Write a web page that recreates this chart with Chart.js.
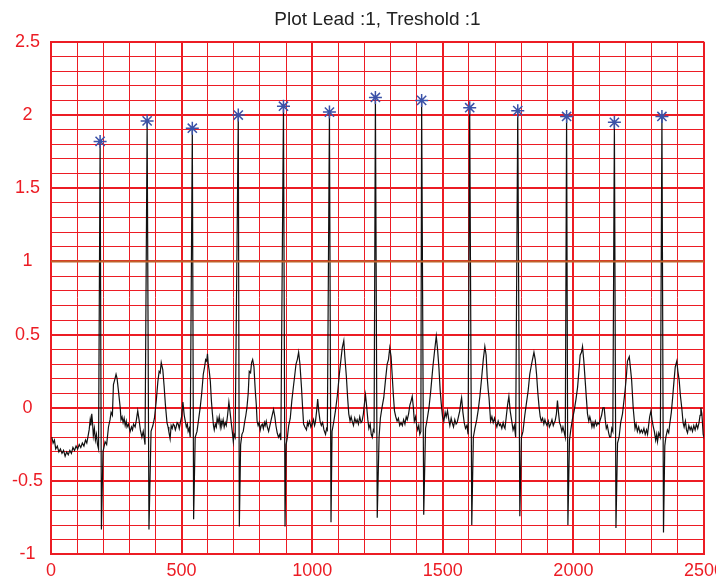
<!DOCTYPE html>
<html>
<head>
<meta charset="utf-8">
<script src="https://cdn.jsdelivr.net/npm/chart.js@4.4.1/dist/chart.umd.min.js"></script>
<style>
  html, body { margin: 0; padding: 0; background: #fff; overflow: hidden; }
  canvas { display: block; }
</style>
</head>
<body>
<canvas id="ecgChart" width="730" height="581"></canvas>
<script>
// ECG samples (time index, amplitude), one line per beat
const ecgTime = [
  3, 8, 13, 18, 24, 30, 36, 42, 48, 54, 60, 66, 72, 78, 84, 90, 96, 102, 108, 114, 120, 126, 132, 137, 142, 146, 150, 153, 156, 159, 162, 166, 170, 174, 178, 182,
  188, 193, 199, 207, 213, 220, 226, 230, 235, 239, 245, 249, 253, 258, 265, 268, 272, 276, 280, 284, 288, 291, 296, 303, 308, 312, 316, 322, 327, 332, 337, 342, 348, 353, 357, 360,
  368, 375, 383, 390, 396, 403, 409, 414, 418, 422, 428, 433, 438, 444, 448, 451, 456, 460, 464, 468, 472, 476, 479, 483, 487, 491, 495, 500, 505, 510, 514, 518, 522, 525, 529, 533,
  541, 546, 552, 559, 565, 571, 577, 583, 588, 592, 596, 599, 602, 606, 610, 614, 618, 622, 625, 629, 633, 636, 640, 644, 648, 651, 654, 659, 663, 667, 671, 676, 681, 685, 690, 694, 698, 701, 705,
  717, 721, 726, 731, 736, 741, 746, 750, 755, 759, 764, 768, 772, 777, 782, 786, 789, 793, 797, 801, 805, 809, 813, 817, 820, 824, 828, 833, 838, 843, 848, 852, 857, 861, 866, 871, 876, 880,
  890, 896, 900, 905, 910, 916, 922, 929, 933, 938, 943, 948, 953, 959, 963, 967, 972, 978, 982, 985, 990, 995, 1000, 1005, 1009, 1012, 1017, 1021, 1025, 1030, 1035, 1040, 1045, 1051, 1055, 1058,
  1066, 1072, 1076, 1082, 1089, 1096, 1104, 1110, 1115, 1121, 1125, 1131, 1136, 1140, 1145, 1149, 1153, 1158, 1163, 1168, 1172, 1177, 1182, 1187, 1191, 1196, 1200, 1204, 1208, 1213, 1217, 1222, 1226, 1230, 1234, 1237,
  1242, 1249, 1256, 1261, 1267, 1274, 1280, 1287, 1292, 1297, 1302, 1306, 1311, 1315, 1320, 1325, 1330, 1335, 1340, 1345, 1350, 1355, 1360, 1364, 1369, 1374, 1379, 1383, 1387, 1391, 1396, 1400, 1404, 1408, 1412, 1416,
  1419, 1427, 1434, 1440, 1447, 1454, 1462, 1468, 1475, 1480, 1485, 1490, 1494, 1499, 1504, 1509, 1513, 1518, 1523, 1527, 1532, 1536, 1541, 1546, 1551, 1555, 1560, 1565, 1569, 1572, 1577, 1582, 1587, 1592, 1597,
  1603, 1611, 1617, 1623, 1630, 1636, 1642, 1649, 1655, 1661, 1666, 1670, 1674, 1677, 1683, 1688, 1693, 1698, 1702, 1707, 1712, 1717, 1721, 1726, 1731, 1735, 1738, 1743, 1748, 1753, 1758, 1764, 1769, 1774, 1779,
  1787, 1795, 1801, 1807, 1814, 1820, 1827, 1833, 1840, 1849, 1854, 1859, 1864, 1869, 1873, 1877, 1882, 1887, 1891, 1894, 1899, 1904, 1908, 1913, 1918, 1923, 1927, 1930, 1935, 1939, 1943, 1947, 1951, 1956, 1960, 1964, 1969,
  1974, 1979, 1985, 1990, 1996, 2003, 2010, 2016, 2021, 2026, 2031, 2035, 2040, 2045, 2050, 2054, 2059, 2063, 2067, 2071, 2075, 2079, 2084, 2089, 2094, 2098, 2103, 2108, 2113, 2118, 2122, 2126, 2130, 2135, 2139, 2143, 2147, 2151,
  2157, 2163, 2169, 2175, 2181, 2188, 2193, 2198, 2203, 2207, 2214, 2218, 2223, 2229, 2236, 2240, 2245, 2250, 2255, 2260, 2265, 2270, 2275, 2280, 2284, 2288, 2292, 2297, 2301, 2305, 2310, 2315, 2319, 2322, 2327, 2333,
  2339, 2345, 2350, 2354, 2360, 2365, 2369, 2375, 2380, 2385, 2390, 2396, 2400, 2405, 2410, 2415, 2420, 2424, 2429, 2433, 2437, 2442, 2447, 2451, 2456, 2461, 2466, 2471, 2476, 2481, 2485, 2488, 2492, 2497, 2500
];
const ecgValue = [
  -0.20, -0.24, -0.22, -0.28, -0.26, -0.30, -0.28, -0.31, -0.29, -0.33, -0.30, -0.32, -0.29, -0.31, -0.27, -0.29, -0.26, -0.28, -0.25, -0.27, -0.24, -0.26, -0.22, -0.24, -0.19, -0.15, -0.08, -0.12, -0.04, -0.10, -0.19, -0.14, -0.22, -0.18, -0.25, -0.28,
  1.82, -0.83, -0.30, -0.23, -0.25, -0.13, -0.08, -0.03, -0.05, 0.16, 0.20, 0.23, 0.20, 0.12, 0.0, -0.08, -0.06, -0.10, -0.07, -0.12, -0.09, -0.13, -0.11, -0.16, -0.13, -0.15, -0.11, -0.13, -0.08, -0.02, -0.08, -0.15, -0.20, -0.16, -0.21, -0.25,
  1.96, -0.83, -0.16, -0.12, -0.07, 0.05, 0.18, 0.25, 0.24, 0.31, 0.26, 0.15, 0.02, -0.10, -0.13, -0.16, -0.21, -0.12, -0.14, -0.11, -0.12, -0.15, -0.13, -0.10, -0.11, -0.14, -0.10, -0.06, 0.04, -0.05, -0.09, -0.13, -0.11, -0.16, -0.14, -0.20,
  1.91, -0.76, -0.20, -0.16, -0.08, 0.0, 0.10, 0.23, 0.28, 0.33, 0.32, 0.37, 0.30, 0.25, 0.18, 0.05, -0.04, -0.12, -0.15, -0.11, -0.13, -0.07, -0.10, -0.06, -0.13, -0.09, -0.12, -0.08, -0.13, -0.10, -0.12, -0.05, 0.04, -0.02, -0.10, -0.16, -0.23, -0.18, -0.20,
  2.00, -0.81, -0.25, -0.18, -0.16, -0.10, -0.05, 0.0, 0.10, 0.25, 0.24, 0.31, 0.33, 0.28, 0.12, 0.02, -0.09, -0.12, -0.10, -0.15, -0.12, -0.11, -0.14, -0.10, -0.12, -0.09, -0.13, -0.16, -0.12, -0.08, -0.04, -0.01, -0.06, -0.12, -0.17, -0.20, -0.18, -0.22,
  2.06, -0.81, -0.25, -0.20, -0.12, -0.07, 0.05, 0.16, 0.22, 0.30, 0.33, 0.38, 0.30, 0.14, 0.01, -0.11, -0.13, -0.15, -0.10, -0.12, -0.09, -0.13, -0.11, -0.08, -0.12, -0.10, -0.02, 0.06, -0.02, -0.09, -0.12, -0.10, -0.15, -0.18, -0.14, -0.15,
  2.02, -0.78, -0.16, -0.10, -0.02, 0.08, 0.23, 0.33, 0.41, 0.46, 0.35, 0.21, 0.06, -0.04, -0.09, -0.06, -0.09, -0.12, -0.07, -0.10, -0.08, -0.11, -0.06, -0.10, -0.09, -0.04, 0.03, 0.09, 0.02, -0.08, -0.14, -0.11, -0.18, -0.20, -0.15, -0.16,
  2.12, -0.75, -0.20, -0.07, 0.0, 0.07, 0.18, 0.30, 0.33, 0.41, 0.35, 0.23, 0.08, -0.02, -0.06, -0.09, -0.07, -0.12, -0.10, -0.12, -0.08, -0.11, -0.06, -0.08, -0.04, 0.02, 0.05, 0.08, 0.01, -0.09, -0.06, -0.12, -0.15, -0.12, -0.18, -0.16,
  2.10, -0.73, -0.14, -0.08, 0.0, 0.12, 0.28, 0.38, 0.49, 0.40, 0.28, 0.12, 0.03, -0.06, -0.09, -0.03, -0.06, -0.02, -0.08, -0.12, -0.07, -0.10, -0.13, -0.08, -0.11, -0.10, -0.06, -0.02, 0.04, 0.07, -0.03, -0.10, -0.14, -0.12, -0.18,
  2.05, -0.80, -0.20, -0.14, -0.08, -0.01, 0.08, 0.21, 0.33, 0.42, 0.36, 0.21, 0.12, 0.07, -0.09, -0.06, -0.10, -0.07, -0.10, -0.13, -0.09, -0.12, -0.11, -0.14, -0.10, -0.13, -0.14, -0.06, 0.02, 0.08, -0.02, -0.09, -0.15, -0.12, -0.20,
  2.03, -0.74, -0.20, -0.16, -0.05, 0.03, 0.12, 0.23, 0.30, 0.38, 0.33, 0.23, 0.10, 0.0, -0.06, -0.09, -0.07, -0.11, -0.08, -0.10, -0.12, -0.09, -0.13, -0.11, -0.08, -0.12, -0.10, -0.09, -0.04, 0.05, -0.03, -0.10, -0.12, -0.16, -0.13, -0.16, -0.20,
  1.99, -0.80, -0.22, -0.15, -0.08, -0.02, 0.06, 0.14, 0.25, 0.36, 0.38, 0.42, 0.32, 0.19, 0.06, -0.04, -0.09, -0.06, -0.09, -0.13, -0.10, -0.13, -0.09, -0.12, -0.10, -0.11, -0.08, -0.05, 0.0, 0.0, -0.08, -0.14, -0.12, -0.17, -0.20, -0.20, -0.14, -0.16,
  1.95, -0.82, -0.24, -0.20, -0.10, -0.04, 0.04, 0.12, 0.22, 0.32, 0.35, 0.28, 0.19, 0.0, -0.14, -0.11, -0.16, -0.13, -0.17, -0.15, -0.17, -0.14, -0.18, -0.15, -0.18, -0.12, -0.06, -0.02, -0.08, -0.12, -0.16, -0.22, -0.18, -0.23, -0.17, -0.20,
  1.99, -0.85, -0.26, -0.20, -0.15, -0.17, -0.11, -0.03, 0.07, 0.18, 0.28, 0.32, 0.25, 0.19, 0.08, 0.0, -0.10, -0.13, -0.09, -0.15, -0.17, -0.12, -0.15, -0.13, -0.16, -0.12, -0.15, -0.11, -0.14, -0.10, -0.05, 0.0, -0.04, -0.18, -0.20
];

// detected R peaks (asterisks)
const peakTime = [188, 368, 541, 717, 890, 1066, 1242, 1419, 1603, 1787, 1974, 2157, 2339];
const peakValue = [1.82, 1.96, 1.91, 2.00, 2.06, 2.02, 2.12, 2.10, 2.05, 2.03, 1.99, 1.95, 1.99];

// threshold line
const thresholdTime = [0, 2500];
const thresholdValue = [1, 1];

const titleText = 'Plot Lead :1, Treshold :1';

const red = '#ec1c24';
const fontFamily = '"Liberation Sans", Arial, sans-serif';

function toPoints(xs, ys) {
  return xs.map((x, i) => ({ x: x, y: ys[i] }));
}

function isMajor(v, step) {
  return Math.abs(v / step - Math.round(v / step)) < 1e-6;
}

const ctx = document.getElementById('ecgChart').getContext('2d');

new Chart(ctx, {
  type: 'line',
  data: {
    datasets: [
      {
        label: 'peaks',
        data: toPoints(peakTime, peakValue),
        showLine: false,
        pointStyle: 'star',
        pointRadius: 6.5,
        pointBorderWidth: 1.5,
        pointBorderColor: '#3b52a8',
        pointBackgroundColor: '#3b52a8',
        order: 0
      },
      {
        label: 'threshold',
        data: toPoints(thresholdTime, thresholdValue),
        borderColor: '#c0622a',
        borderWidth: 2,
        pointRadius: 0,
        clip: false,
        order: 1
      },
      {
        label: 'signal',
        data: toPoints(ecgTime, ecgValue),
        borderColor: '#111',
        borderWidth: 1.2,
        pointRadius: 0,
        tension: 0,
        order: 2
      }
    ]
  },
  options: {
    responsive: false,
    animation: false,
    layout: { padding: { left: 4, right: 20, top: 0, bottom: -7 } },
    plugins: {
      legend: { display: false },
      tooltip: { enabled: false },
      title: {
        display: true,
        fullSize: false,
        text: titleText,
        color: '#222',
        font: { family: fontFamily, size: 19, weight: 'normal' },
        padding: { top: 8, bottom: 11 }
      }
    },
    scales: {
      x: {
        type: 'linear',
        min: 0,
        max: 2500,
        border: { color: red, width: 2 },
        grid: {
          drawTicks: false,
          color: red,
          lineWidth: c => isMajor(c.tick.value, 500) ? 2 : 1
        },
        ticks: {
          stepSize: 100,
          maxTicksLimit: 100,
          autoSkip: false,
          maxRotation: 0,
          padding: 6,
          color: red,
          font: { family: fontFamily, size: 18 },
          callback: v => isMajor(v, 500) ? String(Math.round(v)) : ''
        }
      },
      y: {
        min: -1,
        max: 2.5,
        border: { color: red, width: 2 },
        grid: {
          drawTicks: false,
          color: red,
          lineWidth: c => isMajor(c.tick.value, 0.5) ? 2 : 1
        },
        ticks: {
          stepSize: 0.1,
          maxTicksLimit: 100,
          autoSkip: false,
          padding: 8,
          crossAlign: 'center',
          color: red,
          font: { family: fontFamily, size: 18 },
          callback: v => isMajor(v, 0.5) ? String(Math.round(v * 10) / 10) : ''
        }
      }
    }
  }
});
</script>
</body>
</html>
